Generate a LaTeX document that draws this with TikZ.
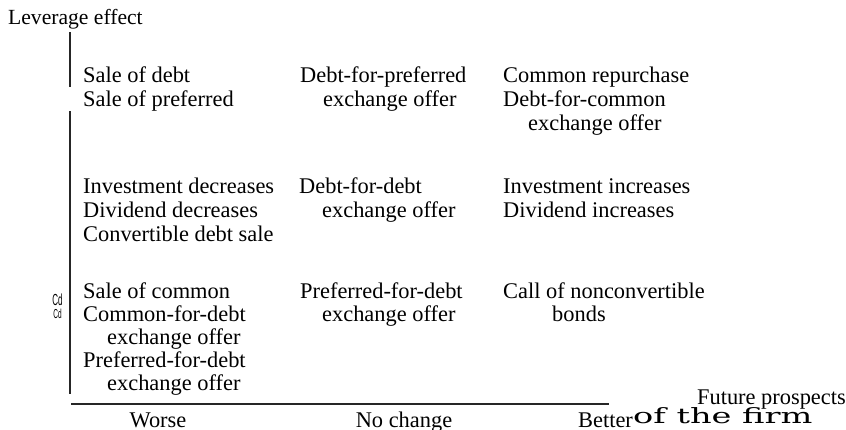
\documentclass[tikz,border=0pt]{standalone}
\usepackage{fontspec}
\setmainfont{Liberation Serif}
\newfontfamily\firmfont{DejaVu Serif}
\newfontfamily\cdfont{Liberation Sans}
\begin{document}
\begin{tikzpicture}[x=1pt,y=-1pt,
  txt/.style={anchor=base west,inner sep=0pt,font=\fontsize{22.4}{24}\selectfont},
  axis/.style={line width=1.4pt,black!85}]
\useasboundingbox[fill=white] (0,0) rectangle (846,429);
% axes
\coordinate (v1a) at (70,32); \coordinate (v1b) at (70,87);
\coordinate (v2a) at (70,111); \coordinate (v2b) at (70,394);
\coordinate (ha) at (71,404); \coordinate (hb) at (609,404);
\draw[axis] (v1a) -- (v1b);
\draw[axis] (v2a) -- (v2b);
\draw[axis] (ha) -- (hb);
% axis labels
\node[txt,font=\fontsize{21.6}{23}\selectfont] (lev) at (8,24) {Leverage effect};
\node[txt,anchor=base east] (fut) at (846,404) {Future prospects};
\node[txt,anchor=base] (worse) at (158,427) {Worse};
\node[txt,anchor=base] (nochg) at (404,427) {No change};
\node[txt] (better) at (578,427) {Better};
\node[anchor=base west,inner sep=0pt] (firm) at (633,423) {\scalebox{1.6}[1]{\firmfont\fontsize{21}{22}\selectfont of the firm}};
% row 1
\node[txt] (r1a) at (83,82) {Sale of debt};
\node[txt] (r1b) at (83,106) {Sale of preferred};
\node[txt] (r1c) at (300,82) {Debt-for-preferred};
\node[txt] (r1d) at (323,106) {exchange offer};
\node[txt] (r1e) at (503,82) {Common repurchase};
\node[txt] (r1f) at (503,106) {Debt-for-common};
\node[txt] (r1g) at (528,130) {exchange offer};
% row 2
\node[txt] (r2a) at (83,193) {Investment decreases};
\node[txt] (r2b) at (83,217) {Dividend decreases};
\node[txt] (r2c) at (83,241) {Convertible debt sale};
\node[txt] (r2d) at (299,193) {Debt-for-debt};
\node[txt] (r2e) at (322,217) {exchange offer};
\node[txt] (r2f) at (503,193) {Investment increases};
\node[txt] (r2g) at (503,217) {Dividend increases};
% row 3
\node[txt] (r3a) at (83,298) {Sale of common};
\node[txt] (r3b) at (83,321) {Common-for-debt};
\node[txt] (r3c) at (107,344) {exchange offer};
\node[txt] (r3d) at (83,367) {Preferred-for-debt};
\node[txt] (r3e) at (107,390) {exchange offer};
\node[txt] (r3f) at (300,298) {Preferred-for-debt};
\node[txt] (r3g) at (322,321) {exchange offer};
\node[txt] (r3h) at (503,298) {Call of nonconvertible};
\node[txt] (r3i) at (552,321) {bonds};
% small marks
\node[anchor=base,inner sep=0pt] (cd1) at (57.5,305) {\scalebox{0.5}[1]{\cdfont\fontsize{16}{16}\selectfont Cd}};
\node[anchor=base,inner sep=0pt] (cd2) at (57.5,318) {\scalebox{0.5}[1]{\cdfont\fontsize{13}{13}\selectfont Cd}};
\end{tikzpicture}
\end{document}
